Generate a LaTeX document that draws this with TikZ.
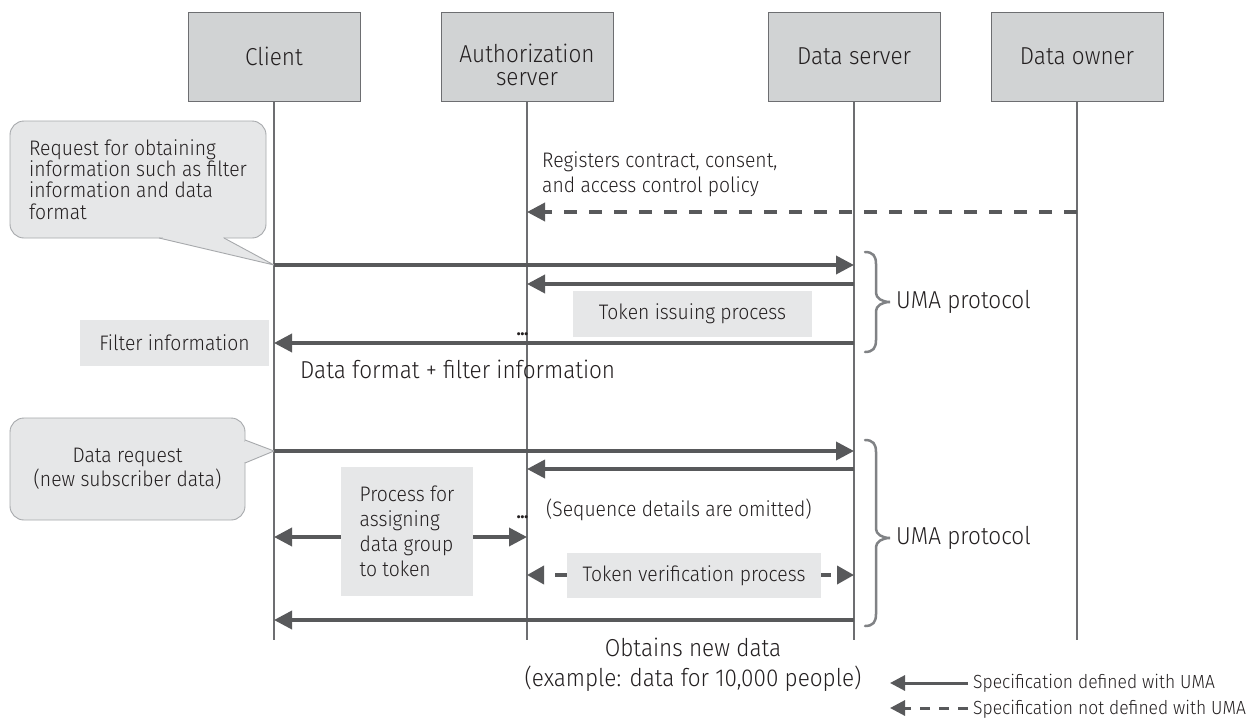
\documentclass[tikz,border=0pt]{standalone}
\usepackage{fontspec}
\setmainfont{Fira Sans Light}[FakeStretch=0.92]
\newfontfamily\dotfont{Fira Sans}
\usetikzlibrary{arrows.meta}

\definecolor{boxfill}{HTML}{D1D3D4}
\definecolor{boxline}{HTML}{6D6E71}
\definecolor{lifec}{HTML}{6D6E71}
\definecolor{msgc}{HTML}{58595B}
\definecolor{notefill}{HTML}{E6E7E8}
\definecolor{noteline}{HTML}{A7A9AC}
\definecolor{bracec}{HTML}{808285}
\definecolor{txt}{HTML}{231F20}

\begin{document}
\begin{tikzpicture}[x=1pt, y=-1pt,
  every node/.style={text=txt},
  actor/.style={draw=boxline, fill=boxfill, line width=1pt, minimum width=172pt,
    minimum height=89pt, inner sep=0pt, font=\fontsize{24.5}{22.7}\selectfont},
  life/.style={draw=lifec, line width=1.3pt},
  msg/.style={draw=msgc, line width=3.6pt, -{Triangle[length=18pt,width=18pt]}},
  msgdash/.style={msg, dash pattern=on 13pt off 12pt},
  vdash/.style={draw=msgc, line width=3.6pt,
    {Triangle[length=17pt,width=18pt]}-{Triangle[length=17pt,width=18pt]},
    dash pattern=on 12pt off 12pt, dash phase=12pt},
  note/.style={fill=notefill, inner sep=0pt, font=\fontsize{21}{25}\selectfont},
  callbox/.style={draw=noteline, fill=notefill, line width=0.9pt,
    rounded corners=14pt, inner sep=0pt},
  calledge/.style={draw=noteline, line width=0.9pt, line join=miter},
  lbl/.style={font=\fontsize{21}{25}\selectfont, inner sep=0pt},
  dotlbl/.style={font=\dotfont\fontsize{22}{22}\selectfont, inner sep=0pt},
  big/.style={font=\fontsize{24.5}{29}\selectfont, inner sep=0pt},
  curly/.style={draw=bracec, line width=2.5pt, line cap=round},
  legtxt/.style={font=\fontsize{19}{19}\selectfont, inner sep=0pt, anchor=base west},
  legline/.style={draw=msgc, line width=3pt, -{Triangle[length=15pt,width=15pt]}},
]
\fill[white] (0,0) rectangle (1249,720);
\useasboundingbox (0,0) rectangle (1249,720);

% participants
\node[actor] (cl) at (274,56.5) {Client};
\node[actor] (au) at (527,56.5) {};
\node[inner sep=0pt, align=center, font=\fontsize{24.5}{22.7}\selectfont] (aulbl) at (527,65) {Authorization\\server};
\node[actor] (ds) at (854,56.5) {Data server};
\node[actor] (dow) at (1077,56.5) {Data owner};

% message rows
\coordinate (bot) at (0,640);
\coordinate (r0) at (0,212);
\coordinate (r1) at (0,265);
\coordinate (r2) at (0,284);
\coordinate (r3) at (0,343);
\coordinate (r4) at (0,451);
\coordinate (r5) at (0,469);
\coordinate (r6) at (0,537);
\coordinate (r7) at (0,575);
\coordinate (r8) at (0,620);

% lifelines
\foreach \n in {cl,au,ds,dow} \draw[life] (\n.south) -- (\n.south |- bot);

% first request callout
\node[callbox, minimum width=256pt, minimum height=117pt, align=left,
  font=\fontsize{21}{21.4}\selectfont] (q1) at (138,179.5)
  {Request for obtaining\\information such as filter\\information and data\\format};
\fill[notefill] (159,238) -- (cl.south |- r1) -- (224,238) -- cycle;
\fill[notefill] (163,235) rectangle (223,239);
\draw[calledge] (159,238) -- (cl.south |- r1) -- (224,238);

% registration by the data owner
\node[lbl, anchor=west, align=left] (regtxt) at (542,174)
  {Registers contract, consent,\\and access control policy};
\draw[msgdash] (dow.south |- r0) -- (au.south |- r0);

% first UMA exchange
\draw[msg] (cl.south |- r1) -- (ds.south |- r1);
\draw[msg] (ds.south |- r2) -- (au.south |- r2);
\node[note, minimum width=239pt, minimum height=46pt] (tok) at (692.5,314) {Token issuing process};
\node[dotlbl, anchor=base east] (dots1) at (529,335) {.\kern-1.6pt.\kern-1.6pt.};
\draw[msg] (ds.south |- r3) -- (cl.south |- r3);
\node[note, minimum width=189pt, minimum height=46pt] (filt) at (174.5,343) {Filter information};
\node[big, anchor=base west] (dfmt) at (300,378) {Data format + filter information};

% second request callout
\node[callbox, minimum width=235pt, minimum height=102pt, align=center,
  font=\fontsize{21}{24}\selectfont] (q2) at (127.5,469)
  {Data request\\(new subscriber data)};
\fill[notefill] (245,440) -- (cl.south |- r4) -- (245,463) -- cycle;
\fill[notefill] (242,441.5) rectangle (246,461.5);
\draw[calledge] (245,440) -- (cl.south |- r4) -- (245,463);

% second UMA exchange
\draw[msg] (cl.south |- r4) -- (ds.south |- r4);
\draw[msg] (ds.south |- r5) -- (au.south |- r5);
\node[note, minimum width=132pt, minimum height=129pt, align=left] (proc) at (407,531.5)
  {Process for\\assigning\\data group\\to token};
\draw[msg] (proc.west |- r6) -- (cl.south |- r6);
\draw[msg] (proc.east |- r6) -- (au.south |- r6);
\node[dotlbl, anchor=base east] (dots2) at (529,518) {.\kern-1.6pt.\kern-1.6pt.};
\node[lbl, anchor=west] (seq) at (546,510) {(Sequence details are omitted)};
\draw[vdash] (au.south |- r7) -- (ds.south |- r7);
\node[note, minimum width=254pt, minimum height=45pt] (ver) at (694,575.5) {Token verification process};
\draw[msg] (ds.south |- r8) -- (cl.south |- r8);
\node[big, anchor=base] (ob1) at (693,656.5) {Obtains new data};
\node[big, anchor=base] (ob2) at (693,686) {(example: data for 10,000 people)};

% protocol braces
\draw[curly] (865,252) .. controls (873,252) and (876,256) .. (876,264)
  -- (876,293) .. controls (876,298) and (882,302) .. (890,302)
  .. controls (882,302) and (876,306) .. (876,311)
  -- (876,340) .. controls (876,348) and (873,352) .. (865,352);
\node[big, anchor=west] (uma1) at (896,302) {UMA protocol};
\draw[curly] (865,440) .. controls (873,440) and (876,444) .. (876,452)
  -- (876,529) .. controls (876,534) and (882,538) .. (890,538)
  .. controls (882,538) and (876,542) .. (876,547)
  -- (876,614) .. controls (876,622) and (873,626) .. (865,626);
\node[big, anchor=west] (uma2) at (896,538) {UMA protocol};

% legend
\node[legtxt] (leg1) at (973,688.5) {Specification defined with UMA};
\node[legtxt] (leg2) at (973,714) {Specification not defined with UMA};
\coordinate (l1a) at (968,683);
\coordinate (l1b) at (890,683);
\coordinate (l2a) at (968,708);
\coordinate (l2b) at (890,708);
\draw[legline] (l1a) -- (l1b);
\draw[legline, dash pattern=on 10pt off 9pt] (l2a) -- (l2b);
\end{tikzpicture}
\end{document}
